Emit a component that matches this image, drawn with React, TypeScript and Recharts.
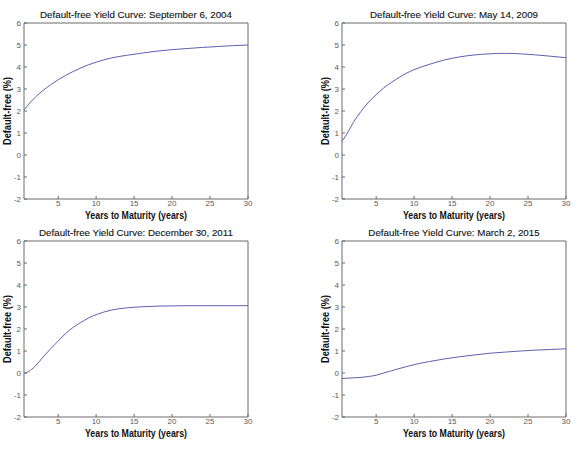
import React from 'react';
import { LineChart, Line, XAxis, YAxis } from 'recharts';

const maturities = [0.5, 1, 2, 3, 4, 5, 6, 7, 8, 9, 10, 12, 14, 16, 18, 20, 22, 24, 26, 28, 30];
const sep2004 = [2.05, 2.26, 2.63, 2.93, 3.19, 3.42, 3.62, 3.8, 3.96, 4.1, 4.22, 4.41, 4.53, 4.63, 4.72, 4.79, 4.84, 4.89, 4.93, 4.97, 5.0];
const may2009 = [0.63, 0.88, 1.48, 1.98, 2.4, 2.74, 3.05, 3.3, 3.52, 3.72, 3.88, 4.12, 4.32, 4.46, 4.55, 4.6, 4.62, 4.6, 4.55, 4.49, 4.42];
const dec2011 = [-0.02, 0.05, 0.32, 0.72, 1.1, 1.45, 1.8, 2.08, 2.3, 2.5, 2.65, 2.86, 2.96, 3.01, 3.04, 3.05, 3.06, 3.06, 3.06, 3.06, 3.06];
const mar2015 = [-0.25, -0.24, -0.22, -0.2, -0.16, -0.1, 0.0, 0.1, 0.2, 0.29, 0.38, 0.52, 0.64, 0.74, 0.82, 0.9, 0.95, 1.0, 1.04, 1.07, 1.1];
const titles = [
  'Default-free Yield Curve: September 6, 2004',
  'Default-free Yield Curve: May 14, 2009',
  'Default-free Yield Curve: December 30, 2011',
  'Default-free Yield Curve: March 2, 2015',
];
const xTicks = [5, 10, 15, 20, 25, 30];
const yTicks = [-2, -1, 0, 1, 2, 3, 4, 5, 6];
const xLabel = 'Years to Maturity (years)';
const yLabel = 'Default-free (%)';

const series = [sep2004, may2009, dec2011, mar2015];
const positions = [
  { left: 24, top: 23 },
  { left: 342, top: 23 },
  { left: 24, top: 241 },
  { left: 342, top: 241 },
];

const PW = 224;
const PH = 176;
const AXIS = '#6b6b6b';
const TICKTEXT = '#5a5a5a';
const LINE = '#5f5fae';
const FONT = 'Liberation Sans, Arial, sans-serif';

function Panel({ idx }: { idx: number }) {
  const vals = series[idx];
  const data = maturities.map((m, i) => ({ m, y: vals[i] }));
  const pos = positions[idx];
  return (
    <div style={{ position: 'absolute', left: pos.left - 24, top: pos.top - 23 }}>
      <LineChart
        width={24 + PW + 8}
        height={23 + PH + 14}
        data={data}
        margin={{ top: 22, right: 7, bottom: 0, left: 0 }}
      >
        <XAxis
          xAxisId="b"
          dataKey="m"
          type="number"
          domain={[0.5, 30]}
          ticks={xTicks}
          allowDataOverflow
          height={14}
          tickSize={-3}
          tickMargin={4}
          stroke={AXIS}
          tick={{ fontSize: 8, fill: TICKTEXT, fontFamily: FONT }}
        />
        <XAxis
          xAxisId="t"
          dataKey="m"
          type="number"
          orientation="top"
          domain={[0.5, 30]}
          ticks={xTicks}
          allowDataOverflow
          height={1}
          tickSize={-3}
          tick={false}
          stroke={AXIS}
        />
        <YAxis
          yAxisId="l"
          type="number"
          domain={[-2, 6]}
          ticks={yTicks}
          allowDataOverflow
          width={24}
          tickSize={-3}
          tickMargin={6}
          stroke={AXIS}
          tick={{ fontSize: 8, fill: TICKTEXT, fontFamily: FONT }}
        />
        <YAxis
          yAxisId="r"
          type="number"
          orientation="right"
          domain={[-2, 6]}
          ticks={yTicks}
          allowDataOverflow
          width={1}
          tickSize={-3}
          tick={false}
          stroke={AXIS}
        />
        <Line
          xAxisId="b"
          yAxisId="l"
          type="monotone"
          dataKey="y"
          stroke={LINE}
          strokeWidth={1}
          dot={false}
          isAnimationActive={false}
        />
      </LineChart>
    </div>
  );
}

export default function App() {
  return (
    <div style={{ position: 'absolute', left: 0, top: 0, width: 579, height: 452, background: '#fff', overflow: 'hidden' }}>
      {[0, 1, 2, 3].map((i) => (
        <Panel key={i} idx={i} />
      ))}
      <svg width={579} height={452} style={{ position: 'absolute', left: 0, top: 0, pointerEvents: 'none' }}>
        {positions.map((p, i) => (
          <g key={i} fontFamily={FONT}>
            <text
              x={p.left + PW / 2}
              y={p.top - 8.5}
              textAnchor="middle"
              dominantBaseline="central"
              fontSize={9.75}
              fill="#111"
              stroke="#111"
              strokeWidth={0.12}
            >
              {titles[i]}
            </text>
            <text
              x={p.left + PW / 2}
              y={p.top + PH + 16.5}
              textAnchor="middle"
              dominantBaseline="central"
              fontSize={10.2}
              fontWeight="bold"
              fill="#111"
              textLength={102}
              lengthAdjust="spacingAndGlyphs"
            >
              {xLabel}
            </text>
            <text
              x={p.left - 16.5}
              y={p.top + PH / 2}
              textAnchor="middle"
              dominantBaseline="central"
              fontSize={10.2}
              fontWeight="bold"
              fill="#111"
              textLength={68}
              lengthAdjust="spacingAndGlyphs"
              transform={`rotate(-90 ${p.left - 16.5} ${p.top + PH / 2})`}
            >
              {yLabel}
            </text>
          </g>
        ))}
      </svg>
    </div>
  );
}
